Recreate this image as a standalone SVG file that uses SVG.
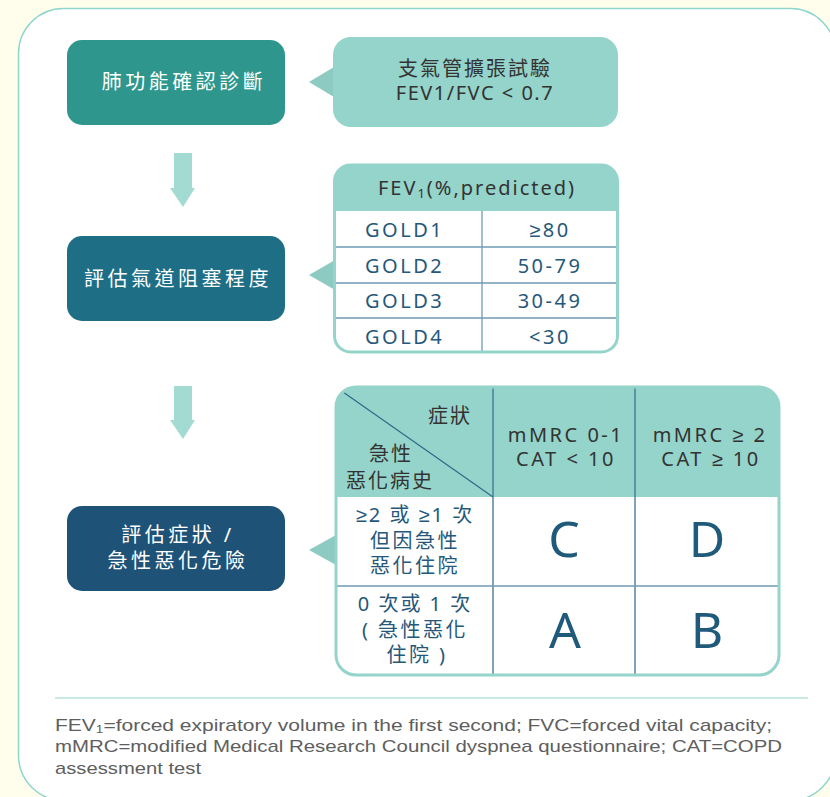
<svg xmlns="http://www.w3.org/2000/svg" width="830" height="797" viewBox="0 0 830 797">
<style>
.cjk{font-family:"Noto Sans","Liberation Sans","Noto Sans CJK TC",sans-serif;}
.wt{fill:#ffffff;font-size:20px;letter-spacing:3.5px;text-anchor:middle;}
.dk{fill:#333333;font-size:20px;letter-spacing:2px;text-anchor:middle;}
.bl{fill:#25587a;font-size:20px;letter-spacing:2.5px;}
.mid{text-anchor:middle;}
.big{fill:#1f5a7a;font-size:50px;text-anchor:middle;font-family:"Noto Sans",sans-serif;}
.ptr{fill:#8dcac1;}
.arr{fill:#a3dbd3;}
.thin{stroke:#6e9bb3;stroke-width:1.3;fill:none;}
.col{stroke:#3d7291;stroke-width:1.3;fill:none;}
.foot{fill:#5e5e5e;font-size:17px;font-family:"Liberation Sans",sans-serif;}
</style>
<rect x="0" y="0" width="830" height="797" fill="#fffdec"/>
<rect x="18.5" y="8.5" width="817" height="792" rx="45" fill="#ffffff" stroke="#8fd6cc" stroke-width="1.5"/>

<g id="connectors">
<path class="arr" d="M174,153 H192 V188 H195 L183,207 L170,188 H174 Z"/>
<path class="arr" d="M174,386 H192 V420 H195 L183,439 L170,420 H174 Z"/>
</g>

<g id="node-diagnosis">
<rect x="67" y="40" width="218" height="85" rx="15" fill="#2e968c"/>
<text class="cjk wt" x="184" y="89">肺功能確認診斷</text>
</g>

<g id="node-spirometry">
<path class="ptr" d="M309,82 L334,67 V97 Z"/>
<rect x="333" y="37" width="285" height="90" rx="18" fill="#94d4ca"/>
<text class="cjk dk" x="475" y="76">支氣管擴張試驗</text>
<text class="cjk dk" x="475" y="100" style="letter-spacing:1.5px">FEV1/FVC &lt; 0.7</text>
</g>

<g id="node-obstruction">
<rect x="67" y="236" width="218" height="85" rx="15" fill="#1e6e86"/>
<text class="cjk wt" x="178" y="286">評估氣道阻塞程度</text>
</g>

<g id="node-gold-table">
<path class="ptr" d="M309,275 L335,260 V290 Z"/>
<rect x="334.5" y="165" width="283" height="187" rx="16" fill="#ffffff"/>
<path d="M334.5,211 V181 A16,16 0 0 1 350.5,165 H601.5 A16,16 0 0 1 617.5,181 V211 Z" fill="#94d4ca"/>
<line class="thin" x1="335" y1="247" x2="617" y2="247"/>
<line class="thin" x1="335" y1="283" x2="617" y2="283"/>
<line class="thin" x1="335" y1="318" x2="617" y2="318"/>
<line class="thin" x1="482" y1="211" x2="482" y2="352"/>
<rect x="334.5" y="165" width="283" height="187" rx="16" fill="none" stroke="#94d4ca" stroke-width="3"/>
<text class="cjk dk" x="477" y="195">FEV<tspan font-size="13" dy="3">1</tspan><tspan dy="-3">(%,predicted)</tspan></text>
<text class="cjk bl" x="365" y="237">GOLD1</text>
<text class="cjk bl" x="365" y="273">GOLD2</text>
<text class="cjk bl" x="365" y="308">GOLD3</text>
<text class="cjk bl" x="365" y="344">GOLD4</text>
<text class="cjk bl mid" x="550" y="237">≥80</text>
<text class="cjk bl mid" x="550" y="273">50-79</text>
<text class="cjk bl mid" x="550" y="308">30-49</text>
<text class="cjk bl mid" x="550" y="344">&lt;30</text>
</g>

<g id="node-risk">
<rect x="67" y="506" width="218" height="85" rx="15" fill="#1e5277"/>
<text class="cjk wt" x="178" y="542">評估症狀 /</text>
<text class="cjk wt" x="178" y="568">急性惡化危險</text>
</g>

<g id="node-abcd-table">
<path class="ptr" d="M309,550 L336,535 V565 Z"/>
<rect x="336" y="387" width="443" height="288" rx="20" fill="#ffffff"/>
<path d="M336,497 V407 A20,20 0 0 1 356,387 H759 A20,20 0 0 1 779,407 V497 Z" fill="#94d4ca"/>
<line x1="343" y1="392" x2="493" y2="497" stroke="#2f6a8a" stroke-width="1.2"/>
<line class="col" x1="493" y1="387" x2="493" y2="675"/>
<line class="col" x1="635" y1="387" x2="635" y2="675"/>
<line class="thin" x1="336" y1="586" x2="779" y2="586"/>
<rect x="336" y="387" width="443" height="288" rx="20" fill="none" stroke="#94d4ca" stroke-width="3"/>
<text class="cjk dk" x="450" y="423">症狀</text>
<text class="cjk dk" x="391" y="461">急性</text>
<text class="cjk dk" x="390" y="488">惡化病史</text>
<text class="cjk dk" x="566" y="442" style="letter-spacing:2.5px">mMRC 0-1</text>
<text class="cjk dk" x="566" y="466" style="letter-spacing:2.5px">CAT &lt; 10</text>
<text class="cjk dk" x="710" y="442" style="letter-spacing:2.5px">mMRC ≥ 2</text>
<text class="cjk dk" x="711" y="466" style="letter-spacing:2.5px">CAT ≥ 10</text>
<text class="cjk bl mid" x="415" y="522" style="letter-spacing:2px">≥2 或 ≥1 次</text>
<text class="cjk bl mid" x="415" y="548">但因急性</text>
<text class="cjk bl mid" x="415" y="573">惡化住院</text>
<text class="cjk bl mid" x="415" y="611" style="letter-spacing:2px">0 次或 1 次</text>
<text class="cjk bl mid" x="415" y="637">( 急性惡化</text>
<text class="cjk bl mid" x="417" y="662">住院 )</text>
<text class="big" x="564" y="557">C</text>
<text class="big" x="707" y="557">D</text>
<text class="big" x="565" y="648">A</text>
<text class="big" x="707" y="648">B</text>
</g>

<line x1="55" y1="698" x2="808" y2="698" stroke="#8fd6cc" stroke-width="1.2"/>
<text class="foot" x="55" y="731" textLength="717" lengthAdjust="spacingAndGlyphs">FEV<tspan font-size="11" dy="2">1</tspan><tspan dy="-2">=forced expiratory volume in the first second; FVC=forced vital capacity;</tspan></text>
<text class="foot" x="55" y="752" textLength="727" lengthAdjust="spacingAndGlyphs">mMRC=modified Medical Research Council dyspnea questionnaire; CAT=COPD</text>
<text class="foot" x="55" y="774" textLength="146" lengthAdjust="spacingAndGlyphs">assessment test</text>
</svg>
